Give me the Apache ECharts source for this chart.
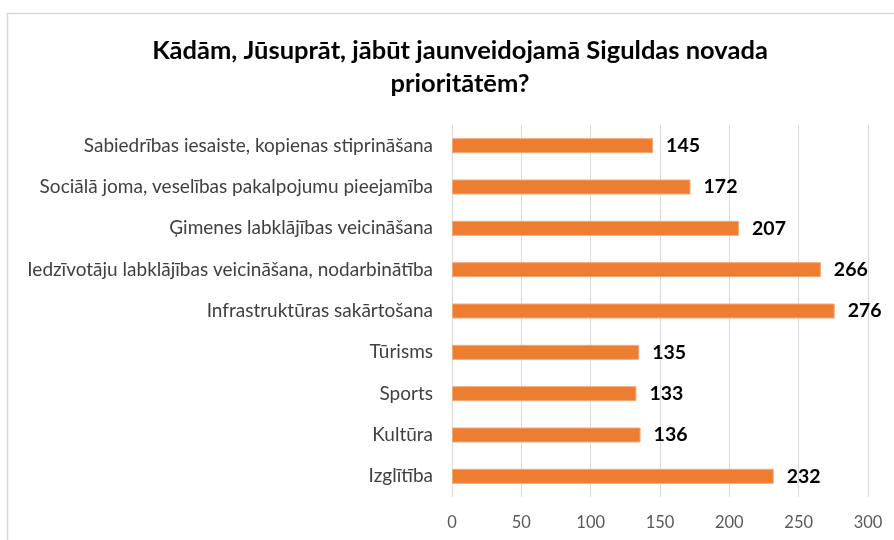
<!DOCTYPE html>
<html>
<head>
<meta charset="utf-8">
<script src="https://cdn.jsdelivr.net/npm/echarts@6/dist/echarts.min.js"></script>
<style>
  html, body { margin: 0; padding: 0; background: #fff; }
  #chart { width: 894px; height: 540px; }
</style>
</head>
<body>
<div id="chart"></div>
<script>
// Survey answers: priorities for the new Sigulda municipality
const categories = [
  'Sabiedrības iesaiste, kopienas stiprināšana',
  'Sociālā joma, veselības pakalpojumu pieejamība',
  'Ģimenes labklājības veicināšana',
  'Iedzīvotāju labklājības veicināšana, nodarbinātība',
  'Infrastruktūras sakārtošana',
  'Tūrisms',
  'Sports',
  'Kultūra',
  'Izglītība'
];
const counts = [145, 172, 207, 266, 276, 135, 133, 136, 232];
const titleLines = ['Kādām, Jūsuprāt, jābūt jaunveidojamā Siguldas novada', 'prioritātēm?'];

const FONT = 'Lato, "Open Sans", sans-serif';

const chart = echarts.init(document.getElementById('chart'), null, { renderer: 'canvas' });
chart.setOption({
  backgroundColor: '#ffffff',
  animation: false,
  graphic: [
    {
      type: 'rect',
      shape: { x: 7.5, y: 13.5, width: 1000, height: 1000 },
      style: { fill: 'none', stroke: '#d9d9d9', lineWidth: 1.5 },
      silent: true
    },
    {
      type: 'text',
      x: 460, y: 51,
      style: {
        text: titleLines[0],
        font: 'bold 25.5px ' + FONT,
        fill: '#000000',
        align: 'center',
        verticalAlign: 'middle'
      }
    },
    {
      type: 'text',
      x: 460, y: 84,
      style: {
        text: titleLines[1],
        font: 'bold 25.5px ' + FONT,
        fill: '#000000',
        align: 'center',
        verticalAlign: 'middle'
      }
    }
  ],
  grid: { left: 452, right: 26, top: 125, bottom: 43, containLabel: false },
  xAxis: {
    type: 'value',
    min: 0, max: 300, interval: 50,
    axisLine: { show: false },
    axisTick: { show: false },
    axisLabel: { color: '#595959', fontSize: 16.5, fontFamily: FONT, margin: 17 },
    splitLine: { lineStyle: { color: '#d9d9d9', width: 1 } }
  },
  yAxis: {
    type: 'category',
    data: categories,
    inverse: true,
    axisLine: { show: false },
    axisTick: { show: false },
    axisLabel: { color: '#404040', fontSize: 19, fontFamily: FONT, margin: 19 }
  },
  series: [{
    type: 'bar',
    data: counts,
    barWidth: 15,
    itemStyle: { color: '#ED7D31', borderColor: '#F4A878', borderWidth: 1 },
    label: {
      show: true,
      position: 'right',
      distance: 13,
      color: '#000000',
      fontSize: 19.5,
      fontWeight: 'bold',
      fontFamily: FONT
    }
  }]
});
</script>
</body>
</html>
